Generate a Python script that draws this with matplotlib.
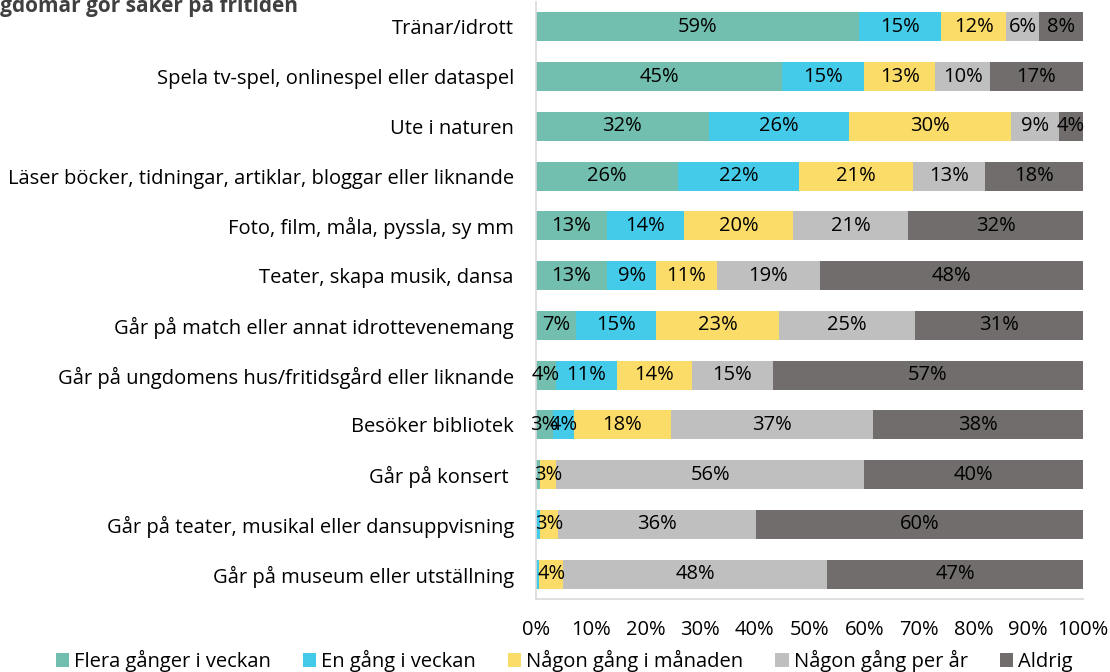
import numpy as np
import matplotlib
matplotlib.use("Agg")
import matplotlib.pyplot as plt

plt.rcParams['font.family'] = ['Open Sans', 'DejaVu Sans']

# Data (andel i procent)
aktiviteter = [
    "Tränar/idrott",
    "Spela tv-spel, onlinespel eller dataspel",
    "Ute i naturen",
    "Läser böcker, tidningar, artiklar, bloggar eller liknande",
    "Foto, film, måla, pyssla, sy mm",
    "Teater, skapa musik, dansa",
    "Går på match eller annat idrottevenemang",
    "Går på ungdomens hus/fritidsgård eller liknande",
    "Besöker bibliotek",
    "Går på konsert ",
    "Går på teater, musikal eller dansuppvisning",
    "Går på museum eller utställning",
]
serier = ["Flera gånger i veckan", "En gång i veckan", "Någon gång i månaden",
          "Någon gång per år", "Aldrig"]

flera_ggr_vecka = [59, 45, 31.6, 26, 13, 13, 7.3, 3.7, 3.1, 0.7, 0, 0]
en_gang_vecka = [15, 15, 25.6, 22, 14, 9, 14.6, 11.1, 3.8, 0, 0.7, 0.6]
nagon_gang_manad = [12, 13, 29.6, 21, 20, 11, 22.6, 13.7, 17.8, 3.0, 3.3, 4.4]
nagon_gang_ar = [6, 10, 8.8, 13, 21, 19, 24.8, 14.8, 37.0, 56.3, 36.2, 48.2]
aldrig = [8, 17, 4.4, 18, 32, 48, 30.7, 56.7, 38.3, 40.0, 59.8, 46.8]

farger = ["#72bfaf", "#45cbea", "#fcdc68", "#bfbfbf", "#716d6c"]

fig = plt.figure(figsize=(11.1, 6.72), dpi=100)
ax = fig.add_axes([536 / 1110, 1 - 599 / 672, 547 / 1110, 597 / 672])

y = np.arange(len(aktiviteter))
left = np.zeros(len(aktiviteter))
for vals, namn, farg in zip([flera_ggr_vecka, en_gang_vecka, nagon_gang_manad,
                             nagon_gang_ar, aldrig], serier, farger):
    vals = np.array(vals, dtype=float)
    ax.barh(y, vals, left=left, height=0.58, color=farg, label=namn)
    for yi, l, v in zip(y, left, vals):
        if v >= 2.5:
            ax.text(l + v / 2, yi, f"{v:.0f}%", ha='center', va='center',
                    fontsize=14.5, color='black')
    left += vals

ax.set_xlim(0, 100)
ax.set_ylim(len(aktiviteter) - 0.5, -0.5)
ax.set_yticks(y)
ax.set_yticklabels(aktiviteter, fontsize=14.5)
ax.set_xticks(np.arange(0, 101, 10))
ax.set_xticklabels([f"{t}%" for t in range(0, 101, 10)], fontsize=14.5)
ax.tick_params(length=0)
ax.tick_params(axis='y', pad=16)
ax.tick_params(axis='x', pad=15)
for s in ['top', 'right']:
    ax.spines[s].set_visible(False)
for s in ['left', 'bottom']:
    ax.spines[s].set_color('#d9d9d9')
    ax.spines[s].set_linewidth(1.2)

fig.text(298 / 1110, 1 - 12 / 672, "Hur ofta ungdomar gör saker på fritiden",
         ha='right', va='baseline', fontsize=15, fontweight='bold', color='#404040')

fig.legend(loc='center', bbox_to_anchor=(564 / 1110, 1 - 661 / 672), ncol=5,
           frameon=False, fontsize=14.5, handlelength=0.65, handleheight=0.65,
           handletextpad=0.25, columnspacing=1.6, borderpad=0, borderaxespad=0)

fig.savefig("out.png", dpi=100)
